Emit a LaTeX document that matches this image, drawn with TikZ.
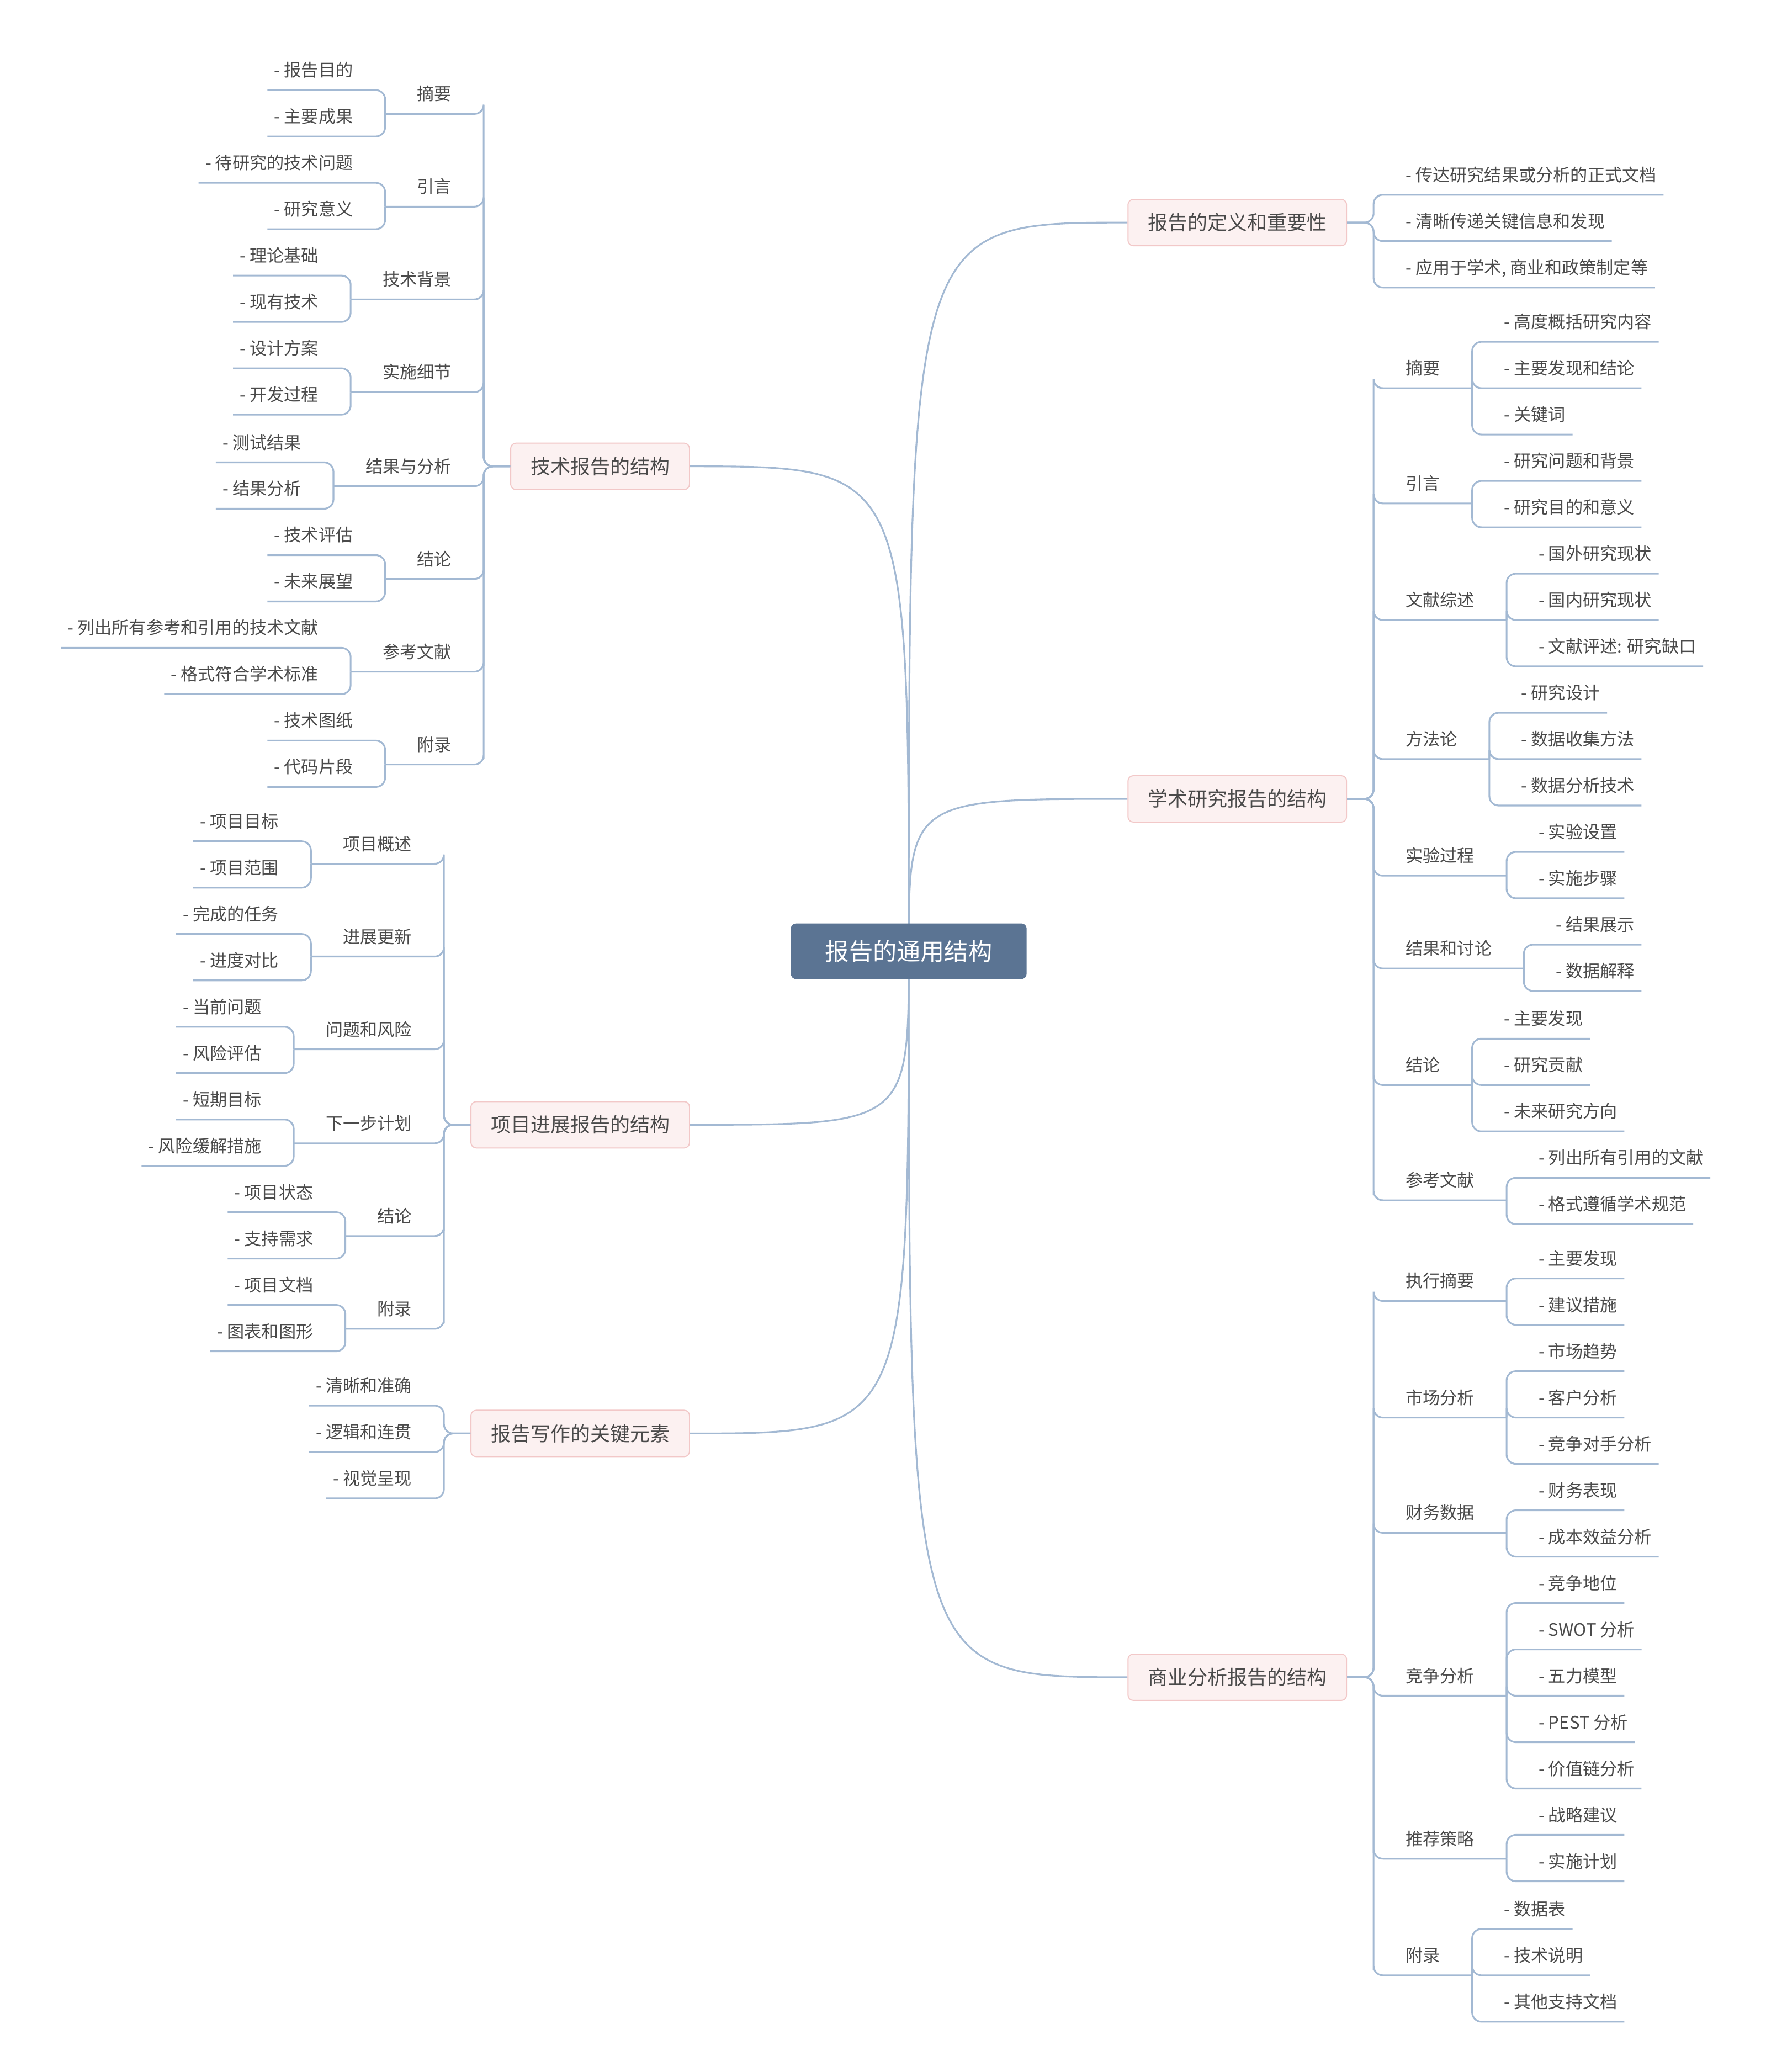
\documentclass[tikz,border=0pt]{standalone}
\usepackage{fontspec}
\setmainfont{Noto Sans CJK SC}
\usetikzlibrary{backgrounds}
\definecolor{linec}{HTML}{A3B9D3}
\definecolor{rootc}{HTML}{5B7493}
\definecolor{mainf}{HTML}{FCF1F1}
\definecolor{maind}{HTML}{F2C8C8}
\definecolor{textc}{HTML}{4A4A4A}

\tikzset{
  conn/.style={draw=linec,line width=1.3pt,rounded corners=7pt},
  root/.style={fill=rootc,rounded corners=4pt,text=white,
    font=\fontsize{18}{20}\selectfont,minimum width=178pt,minimum height=42pt},
  topic/.style={fill=mainf,draw=maind,line width=0.8pt,rounded corners=4pt,
    text=textc,font=\fontsize{15}{17}\selectfont,minimum height=35pt,inner xsep=15pt},
  sub/.style={text=textc,font=\fontsize{13}{15}\selectfont,text height=10pt,
    text depth=3pt,inner ysep=7pt,inner xsep=24pt},
  leaf/.style={sub,inner xsep=5pt},
}

% children of a topic box (right / left)
\newcommand\rkid[6]{%
  \path (0,#5+15) coordinate (tmp);
  \node[#1,anchor=south west] (#3) at ([xshift=#2]#4.east |- tmp) {#6};
  \draw[conn] (#4.east) -- ++(20pt,0) |- (#3.south west) -- (#3.south east);}
\newcommand\lkid[6]{%
  \path (0,#5+15) coordinate (tmp);
  \node[#1,anchor=south east] (#3) at ([xshift=-#2]#4.west |- tmp) {#6};
  \draw[conn] (#4.west) -- ++(-20pt,0) |- (#3.south east) -- (#3.south west);}
% leaves of a sub node (right / left)
\newcommand\rleaf[4]{%
  \path (0,#3+15) coordinate (tmp);
  \node[leaf,anchor=south west] (#1) at ([xshift=19pt]#2.south east |- tmp) {- #4};
  \draw[conn] (#2.south east) |- (#1.south west) -- (#1.south east);}
\newcommand\lleaf[4]{%
  \path (0,#3+15) coordinate (tmp);
  \node[leaf,anchor=south east] (#1) at ([xshift=-19pt]#2.south west |- tmp) {- #4};
  \draw[conn] (#2.south west) |- (#1.south east) -- (#1.south west);}
\newcommand\branch[2]{%
  \begin{scope}[on background layer]
    \draw[conn] (root.center) .. controls (root.center |- #1.#2) .. (#1.#2);
  \end{scope}}

\begin{document}
\begin{tikzpicture}[x=1pt,y=-1pt]
  \useasboundingbox (0,0) rectangle (1333,1564);

  % root and topics
  \node[root] (root) at (686,718) {报告的通用结构};
  \node[topic] (def) at (934,168) {报告的定义和重要性};
  \node[topic] (acad) at (934,603) {学术研究报告的结构};
  \node[topic] (biz) at (934,1266) {商业分析报告的结构};
  \node[topic] (tech) at (453,352) {技术报告的结构};
  \node[topic] (proj) at (438,849) {项目进展报告的结构};
  \node[topic] (key) at (438,1082) {报告写作的关键元素};
  \branch{def}{west} \branch{acad}{west} \branch{biz}{west}
  \branch{tech}{east} \branch{proj}{east} \branch{key}{east}

  % definition
  \rkid{leaf}{39pt}{d1}{def}{132}{- 传达研究结果或分析的正式文档}
  \rkid{leaf}{39pt}{d2}{def}{167}{- 清晰传递关键信息和发现}
  \rkid{leaf}{39pt}{d3}{def}{202}{- 应用于学术, 商业和政策制定等}

  % academic
  \rkid{sub}{20pt}{a1}{acad}{278}{摘要}
  \rleaf{a11}{a1}{243}{高度概括研究内容}
  \rleaf{a12}{a1}{278}{主要发现和结论}
  \rleaf{a13}{a1}{313}{关键词}
  \rkid{sub}{20pt}{a2}{acad}{365}{引言}
  \rleaf{a21}{a2}{348}{研究问题和背景}
  \rleaf{a22}{a2}{383}{研究目的和意义}
  \rkid{sub}{20pt}{a3}{acad}{453}{文献综述}
  \rleaf{a31}{a3}{418}{国外研究现状}
  \rleaf{a32}{a3}{453}{国内研究现状}
  \rleaf{a33}{a3}{488}{文献评述: 研究缺口}
  \rkid{sub}{20pt}{a4}{acad}{558}{方法论}
  \rleaf{a41}{a4}{523}{研究设计}
  \rleaf{a42}{a4}{558}{数据收集方法}
  \rleaf{a43}{a4}{593}{数据分析技术}
  \rkid{sub}{20pt}{a5}{acad}{646}{实验过程}
  \rleaf{a51}{a5}{628}{实验设置}
  \rleaf{a52}{a5}{663}{实施步骤}
  \rkid{sub}{20pt}{a6}{acad}{716}{结果和讨论}
  \rleaf{a61}{a6}{698}{结果展示}
  \rleaf{a62}{a6}{733}{数据解释}
  \rkid{sub}{20pt}{a7}{acad}{804}{结论}
  \rleaf{a71}{a7}{769}{主要发现}
  \rleaf{a72}{a7}{804}{研究贡献}
  \rleaf{a73}{a7}{839}{未来研究方向}
  \rkid{sub}{20pt}{a8}{acad}{891}{参考文献}
  \rleaf{a81}{a8}{874}{列出所有引用的文献}
  \rleaf{a82}{a8}{909}{格式遵循学术规范}

  % business
  \rkid{sub}{20pt}{b1}{biz}{967}{执行摘要}
  \rleaf{b11}{b1}{950}{主要发现}
  \rleaf{b12}{b1}{985}{建议措施}
  \rkid{sub}{20pt}{b2}{biz}{1055}{市场分析}
  \rleaf{b21}{b2}{1020}{市场趋势}
  \rleaf{b22}{b2}{1055}{客户分析}
  \rleaf{b23}{b2}{1090}{竞争对手分析}
  \rkid{sub}{20pt}{b3}{biz}{1142}{财务数据}
  \rleaf{b31}{b3}{1125}{财务表现}
  \rleaf{b32}{b3}{1160}{成本效益分析}
  \rkid{sub}{20pt}{b4}{biz}{1265}{竞争分析}
  \rleaf{b41}{b4}{1195}{竞争地位}
  \rleaf{b42}{b4}{1230}{SWOT 分析}
  \rleaf{b43}{b4}{1265}{五力模型}
  \rleaf{b44}{b4}{1300}{PEST 分析}
  \rleaf{b45}{b4}{1335}{价值链分析}
  \rkid{sub}{20pt}{b5}{biz}{1388}{推荐策略}
  \rleaf{b51}{b5}{1370}{战略建议}
  \rleaf{b52}{b5}{1405}{实施计划}
  \rkid{sub}{20pt}{b6}{biz}{1476}{附录}
  \rleaf{b61}{b6}{1441}{数据表}
  \rleaf{b62}{b6}{1476}{技术说明}
  \rleaf{b63}{b6}{1511}{其他支持文档}

  % technical
  \lkid{sub}{20pt}{t1}{tech}{71}{摘要}
  \lleaf{t11}{t1}{53}{报告目的}
  \lleaf{t12}{t1}{88}{主要成果}
  \lkid{sub}{20pt}{t2}{tech}{141}{引言}
  \lleaf{t21}{t2}{123}{待研究的技术问题}
  \lleaf{t22}{t2}{158}{研究意义}
  \lkid{sub}{20pt}{t3}{tech}{211}{技术背景}
  \lleaf{t31}{t3}{193}{理论基础}
  \lleaf{t32}{t3}{228}{现有技术}
  \lkid{sub}{20pt}{t4}{tech}{281}{实施细节}
  \lleaf{t41}{t4}{263}{设计方案}
  \lleaf{t42}{t4}{298}{开发过程}
  \lkid{sub}{20pt}{t5}{tech}{352}{结果与分析}
  \lleaf{t51}{t5}{334}{测试结果}
  \lleaf{t52}{t5}{369}{结果分析}
  \lkid{sub}{20pt}{t6}{tech}{422}{结论}
  \lleaf{t61}{t6}{404}{技术评估}
  \lleaf{t62}{t6}{439}{未来展望}
  \lkid{sub}{20pt}{t7}{tech}{492}{参考文献}
  \lleaf{t71}{t7}{474}{列出所有参考和引用的技术文献}
  \lleaf{t72}{t7}{509}{格式符合学术标准}
  \lkid{sub}{20pt}{t8}{tech}{562}{附录}
  \lleaf{t81}{t8}{544}{技术图纸}
  \lleaf{t82}{t8}{579}{代码片段}

  % project progress
  \lkid{sub}{20pt}{p1}{proj}{637}{项目概述}
  \lleaf{p11}{p1}{620}{项目目标}
  \lleaf{p12}{p1}{655}{项目范围}
  \lkid{sub}{20pt}{p2}{proj}{707}{进展更新}
  \lleaf{p21}{p2}{690}{完成的任务}
  \lleaf{p22}{p2}{725}{进度对比}
  \lkid{sub}{20pt}{p3}{proj}{777}{问题和风险}
  \lleaf{p31}{p3}{760}{当前问题}
  \lleaf{p32}{p3}{795}{风险评估}
  \lkid{sub}{20pt}{p4}{proj}{848}{下一步计划}
  \lleaf{p41}{p4}{830}{短期目标}
  \lleaf{p42}{p4}{865}{风险缓解措施}
  \lkid{sub}{20pt}{p5}{proj}{918}{结论}
  \lleaf{p51}{p5}{900}{项目状态}
  \lleaf{p52}{p5}{935}{支持需求}
  \lkid{sub}{20pt}{p6}{proj}{988}{附录}
  \lleaf{p61}{p6}{970}{项目文档}
  \lleaf{p62}{p6}{1005}{图表和图形}

  % key elements
  \lkid{leaf}{39pt}{k1}{key}{1046}{- 清晰和准确}
  \lkid{leaf}{39pt}{k2}{key}{1081}{- 逻辑和连贯}
  \lkid{leaf}{39pt}{k3}{key}{1116}{- 视觉呈现}
\end{tikzpicture}
\end{document}
